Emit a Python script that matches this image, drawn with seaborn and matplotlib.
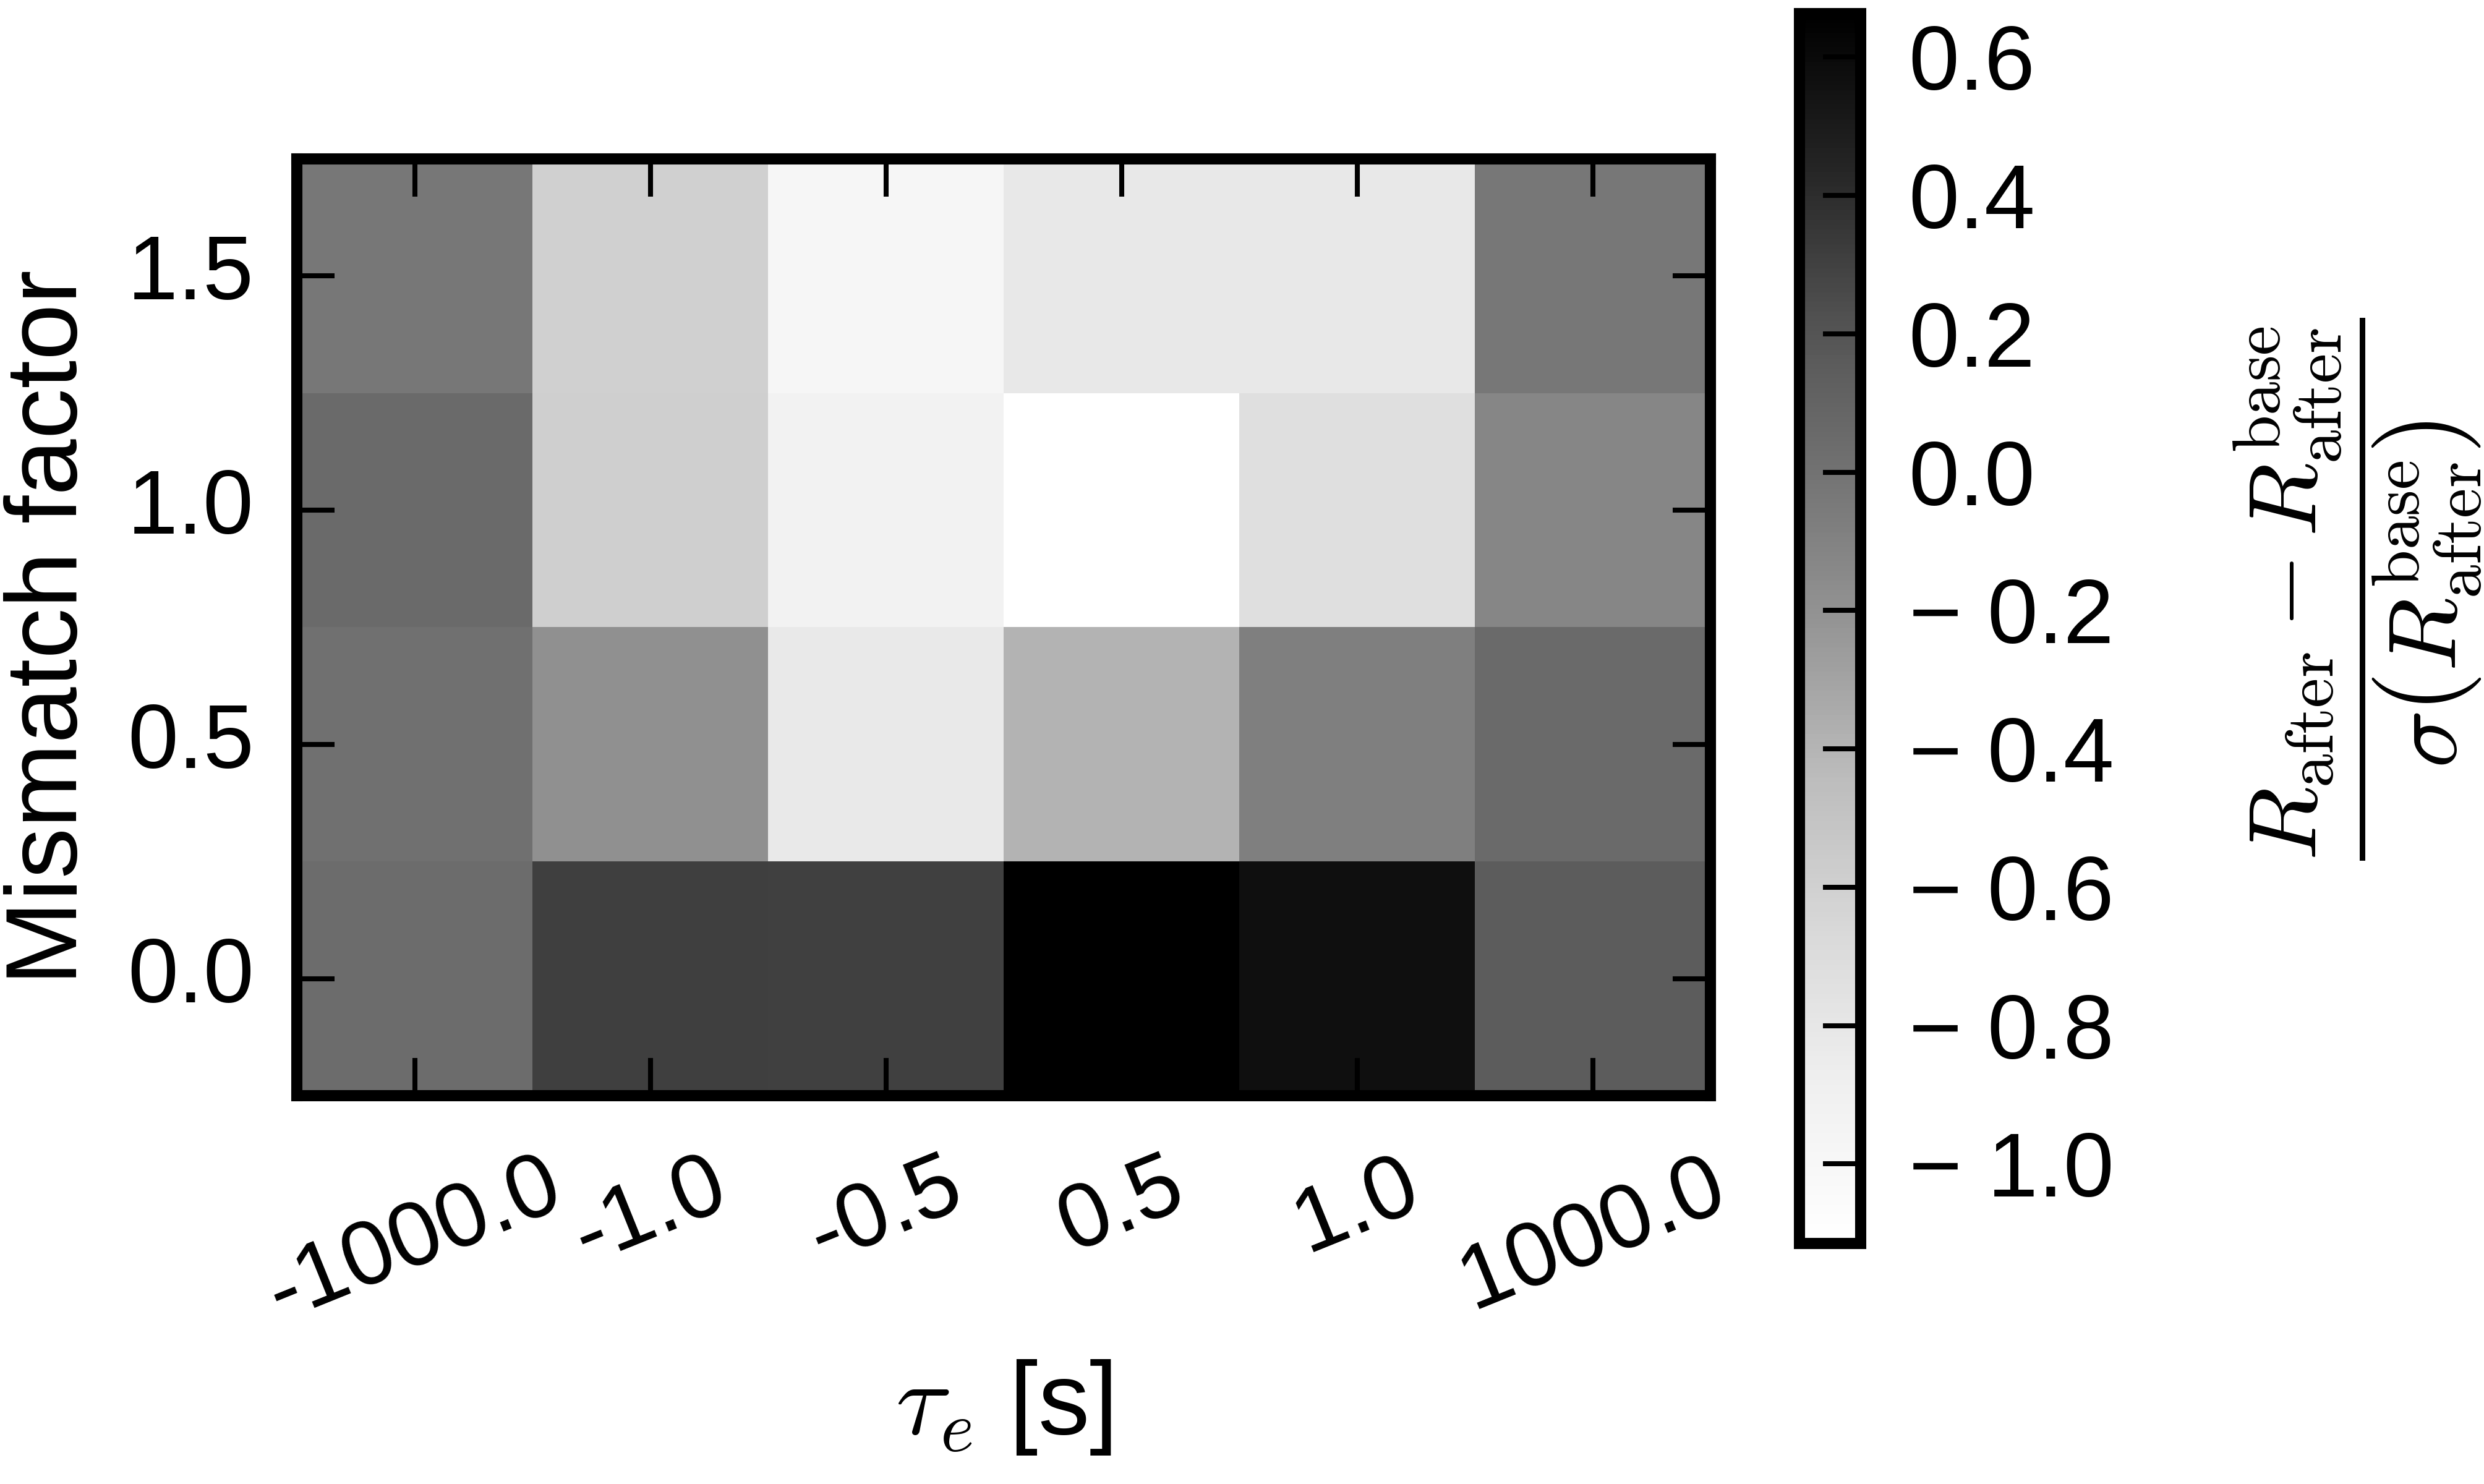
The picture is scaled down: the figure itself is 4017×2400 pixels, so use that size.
import numpy as np
import pandas as pd
import matplotlib
matplotlib.use("Agg")
import matplotlib.pyplot as plt
import seaborn as sns
from matplotlib.ticker import FuncFormatter

# Data
tau_e = [-1000.0, -1.0, -0.5, 0.5, 1.0, 1000.0]
mismatch = [1.5, 1.0, 0.5, 0.0]
row_15 = [-0.029, -0.599, -0.982, -0.815, -0.815, -0.029]
row_10 = [0.057, -0.591, -0.923, -1.115, -0.729, -0.125]
row_05 = [0.016, -0.189, -0.825, -0.391, -0.086, 0.057]
row_00 = [0.043, 0.313, 0.307, 0.663, 0.567, 0.151]
cbar_ticks = [-1.0, -0.8, -0.6, -0.4, -0.2, 0.0, 0.2, 0.4, 0.6]

df = pd.DataFrame([row_15, row_10, row_05, row_00], index=mismatch, columns=tau_e)

sns.set_style("white")
plt.rcParams["font.family"] = ["Liberation Sans", "DejaVu Sans"]
plt.rcParams["mathtext.fontset"] = "cm"
for k in ["text.color", "axes.labelcolor", "xtick.color", "ytick.color"]:
    plt.rcParams[k] = "black"

fig = plt.figure(figsize=(20.085, 12), dpi=200)
ax = fig.add_axes([0.1195, 0.2617, 0.5691, 0.6313])
cax = fig.add_axes([0.7244, 0.1621, 0.0246, 0.8288])

sns.heatmap(df, cmap="Greys", ax=ax, cbar_ax=cax,
            cbar_kws={"ticks": cbar_ticks})

# frame and ticks drawn over the cells
ax.set_axisbelow(False)
cax.set_axisbelow(False)
for sp in ax.spines.values():
    sp.set_visible(True)
    sp.set_linewidth(6.5)
    sp.set_color("black")

ax.tick_params(axis="both", which="major", direction="in", length=22, width=2.9,
               top=True, bottom=True, left=True, right=True,
               labelsize=53, color="black")
ax.tick_params(axis="y", pad=25)
ax.tick_params(axis="x", pad=28)
ax.set_yticklabels(ax.get_yticklabels(), rotation=0)
plt.setp(ax.get_xticklabels(), rotation=22, ha="center")

ax.set_ylabel("Mismatch factor", fontsize=59, labelpad=17)
ax.set_xlabel(r"$\tau_e$ [s]", fontsize=60, labelpad=12)

# colorbar
cbar = ax.collections[0].colorbar
cbar.outline.set_linewidth(6.5)
cbar.outline.set_edgecolor("black")
cax.tick_params(direction="in", length=22, width=2.9, pad=28, labelsize=53,
                right=True, left=False, color="black")
cax.yaxis.set_major_formatter(FuncFormatter(
    lambda v, p: ("\u2212 %.1f" % abs(v)) if v < -1e-9 else "%.1f" % abs(v)))
cax.set_ylabel(r"$\dfrac{R_\mathrm{after} - R_\mathrm{after}^\mathrm{base}}"
               r"{\sigma\left(R_\mathrm{after}^\mathrm{base}\right)}$",
               fontsize=56, labelpad=69)
cax.yaxis.label.set_y(0.532)

fig.savefig("out.png", dpi=200)
